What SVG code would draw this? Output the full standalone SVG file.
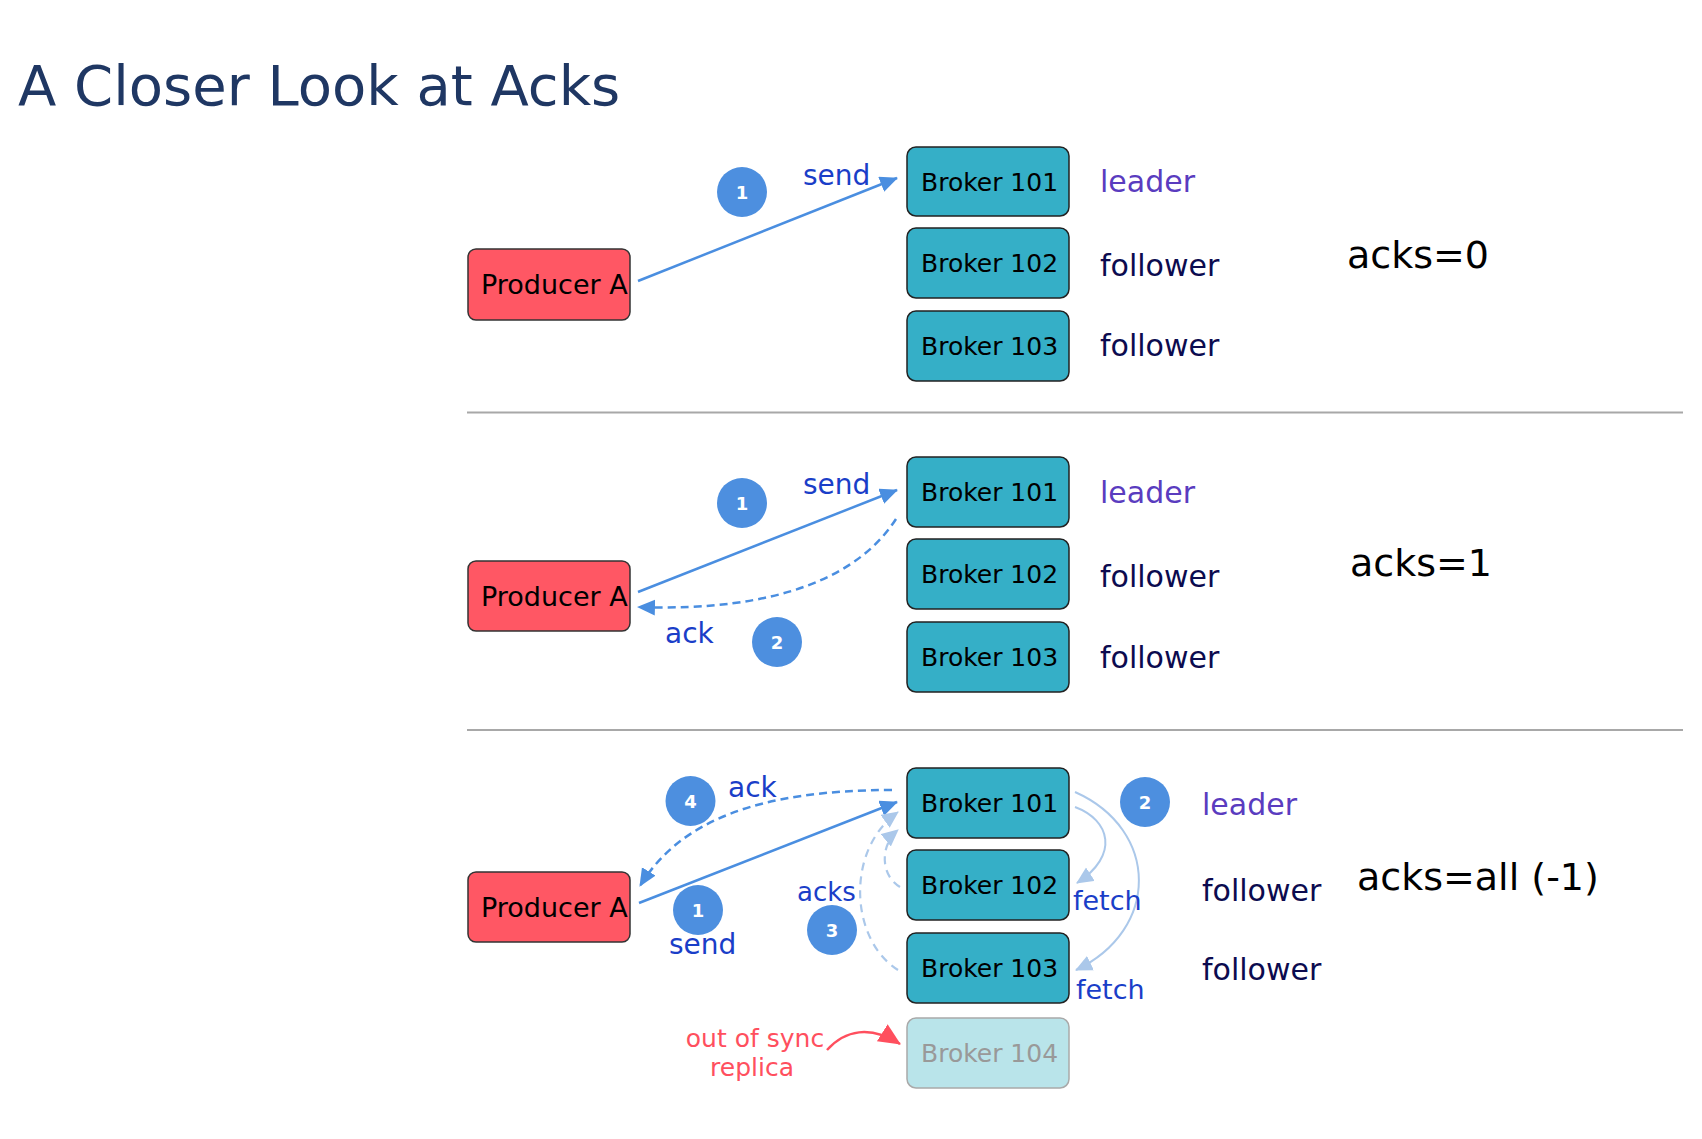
<svg xmlns="http://www.w3.org/2000/svg" width="1702" height="1139" viewBox="0 0 1702 1139">
<style>
text{font-family:"DejaVu Sans",sans-serif}
.title{font-size:56px;fill:#1f3763}
.prod{fill:#ff5764;stroke:#333;stroke-width:1.5}
.brk{fill:#35afc7;stroke:#222;stroke-width:1.5}
.brk-off{fill:#b9e4ea;stroke:#a9a9a9;stroke-width:1.5}
.nt{font-size:27px;fill:#000}
.bt{font-size:25px;fill:#000}
.bt-off{font-size:25px;fill:#999}
.leader{font-size:30px;fill:#5a3cbf}
.follower{font-size:30px;fill:#0c0b4f}
.mode{font-size:38px;fill:#000}
.lbl{font-size:28px;fill:#1a3ec8}
.fetch{font-size:27px;fill:#1a3ec8}
.red{font-size:25px;fill:#ff4f5e}
.step{fill:#4d8fdf}
.stept{font-size:18px;font-weight:bold;fill:#fff;text-anchor:middle}
.sep{stroke:#a8a8a8;stroke-width:2}
.send{fill:none;stroke:#4a8ee0;stroke-width:2.5}
.ackd{fill:none;stroke:#4a8ee0;stroke-width:2.5;stroke-dasharray:8 5}
.lite{fill:none;stroke:#abc8ea;stroke-width:2}
.lited{fill:none;stroke:#abc8ea;stroke-width:2.2;stroke-dasharray:8 6}
.redl{fill:none;stroke:#ff4f5e;stroke-width:2.5}
</style>
<defs>
<marker id="ah" markerUnits="userSpaceOnUse" markerWidth="20" markerHeight="18" refX="17" refY="8" orient="auto"><path d="M0,0 L18,8 L0,16 z" fill="#4a8ee0"/></marker>
<marker id="ahl" markerUnits="userSpaceOnUse" markerWidth="20" markerHeight="18" refX="16" refY="8" orient="auto"><path d="M0,0 L17,8 L0,16 z" fill="#abc8ea"/></marker>
<marker id="ahr" markerUnits="userSpaceOnUse" markerWidth="24" markerHeight="22" refX="21" refY="10" orient="auto"><path d="M0,0 L22,10 L0,20 z" fill="#ff4f5e"/></marker>
</defs>

<text class="title" x="18" y="105">A Closer Look at Acks</text>

<g id="separators">
<line class="sep" x1="467" y1="412.5" x2="1683" y2="412.5"/>
<line class="sep" x1="467" y1="730" x2="1683" y2="730"/>
</g>

<g id="connectors">
<line class="send" x1="638" y1="281" x2="897" y2="178" marker-end="url(#ah)"/>
<line class="send" x1="638" y1="592" x2="897" y2="490" marker-end="url(#ah)"/>
<path class="ackd" d="M896,519 C860,575 780,612 638,607" marker-end="url(#ah)"/>
<line class="send" x1="639" y1="903" x2="897" y2="802" marker-end="url(#ah)"/>
<path class="ackd" d="M892,790 C760,790 680,820 640,886" marker-end="url(#ah)"/>
<path class="lited" d="M900,887 C880,875 880,845 898,830" marker-end="url(#ahl)"/>
<path class="lited" d="M898,970 C850,940 845,850 898,812" marker-end="url(#ahl)"/>
<path class="lite" d="M1075,807 C1110,820 1120,855 1077,883" marker-end="url(#ahl)"/>
<path class="lite" d="M1075,792 C1160,830 1160,930 1076,970" marker-end="url(#ahl)"/>
<path class="redl" d="M827,1050 C845,1030 870,1025 900,1044" marker-end="url(#ahr)"/>
</g>

<g id="s1-producer"><rect class="prod" x="468" y="249" width="162" height="71" rx="8"/><text class="nt" x="481" y="294">Producer A</text></g>
<g id="s1-broker101"><rect class="brk" x="907" y="147" width="162" height="69" rx="9"/><text class="bt" x="921" y="191">Broker 101</text></g>
<g id="s1-broker102"><rect class="brk" x="907" y="228" width="162" height="70" rx="9"/><text class="bt" x="921" y="272">Broker 102</text></g>
<g id="s1-broker103"><rect class="brk" x="907" y="311" width="162" height="70" rx="9"/><text class="bt" x="921" y="355">Broker 103</text></g>
<g id="s1-labels">
<text class="leader" x="1100" y="192">leader</text>
<text class="follower" x="1100" y="276">follower</text>
<text class="follower" x="1100" y="356">follower</text>
<text class="mode" x="1347" y="268">acks=0</text>
</g>
<g id="s1-step1"><circle class="step" cx="742" cy="192" r="25"/><text class="stept" x="742" y="199">1</text></g>
<text class="lbl" x="803" y="185">send</text>

<g id="s2-producer"><rect class="prod" x="468" y="561" width="162" height="70" rx="8"/><text class="nt" x="481" y="606">Producer A</text></g>
<g id="s2-broker101"><rect class="brk" x="907" y="457" width="162" height="70" rx="9"/><text class="bt" x="921" y="501">Broker 101</text></g>
<g id="s2-broker102"><rect class="brk" x="907" y="539" width="162" height="70" rx="9"/><text class="bt" x="921" y="583">Broker 102</text></g>
<g id="s2-broker103"><rect class="brk" x="907" y="622" width="162" height="70" rx="9"/><text class="bt" x="921" y="666">Broker 103</text></g>
<g id="s2-labels">
<text class="leader" x="1100" y="503">leader</text>
<text class="follower" x="1100" y="587">follower</text>
<text class="follower" x="1100" y="668">follower</text>
<text class="mode" x="1350" y="576">acks=1</text>
</g>
<g id="s2-step1"><circle class="step" cx="742" cy="503" r="25"/><text class="stept" x="742" y="510">1</text></g>
<g id="s2-step2"><circle class="step" cx="777" cy="642" r="25"/><text class="stept" x="777" y="649">2</text></g>
<text class="lbl" x="803" y="494">send</text>
<text class="lbl" x="665" y="643">ack</text>

<g id="s3-producer"><rect class="prod" x="468" y="872" width="162" height="70" rx="8"/><text class="nt" x="481" y="917">Producer A</text></g>
<g id="s3-broker101"><rect class="brk" x="907" y="768" width="162" height="70" rx="9"/><text class="bt" x="921" y="812">Broker 101</text></g>
<g id="s3-broker102"><rect class="brk" x="907" y="850" width="162" height="70" rx="9"/><text class="bt" x="921" y="894">Broker 102</text></g>
<g id="s3-broker103"><rect class="brk" x="907" y="933" width="162" height="70" rx="9"/><text class="bt" x="921" y="977">Broker 103</text></g>
<g id="s3-broker104"><rect class="brk-off" x="907" y="1018" width="162" height="70" rx="9"/><text class="bt-off" x="921" y="1062">Broker 104</text></g>
<g id="s3-labels">
<text class="leader" x="1202" y="815">leader</text>
<text class="follower" x="1202" y="901">follower</text>
<text class="follower" x="1202" y="980">follower</text>
<text class="mode" x="1357" y="890">acks=all (-1)</text>
</g>
<g id="s3-step4"><circle class="step" cx="690.5" cy="801" r="25"/><text class="stept" x="690.5" y="808">4</text></g>
<g id="s3-step1"><circle class="step" cx="698" cy="910" r="25"/><text class="stept" x="698" y="917">1</text></g>
<g id="s3-step3"><circle class="step" cx="832" cy="930" r="25"/><text class="stept" x="832" y="937">3</text></g>
<g id="s3-step2"><circle class="step" cx="1145" cy="802" r="25"/><text class="stept" x="1145" y="809">2</text></g>
<text class="lbl" x="728" y="797">ack</text>
<text class="lbl" x="669" y="954">send</text>
<text class="lbl" x="797" y="901" style="font-size:26px">acks</text>
<text class="fetch" x="1073" y="910">fetch</text>
<text class="fetch" x="1076" y="999">fetch</text>
<text class="red" x="755" y="1047" text-anchor="middle">out of sync</text>
<text class="red" x="752" y="1076" text-anchor="middle">replica</text>
</svg>
